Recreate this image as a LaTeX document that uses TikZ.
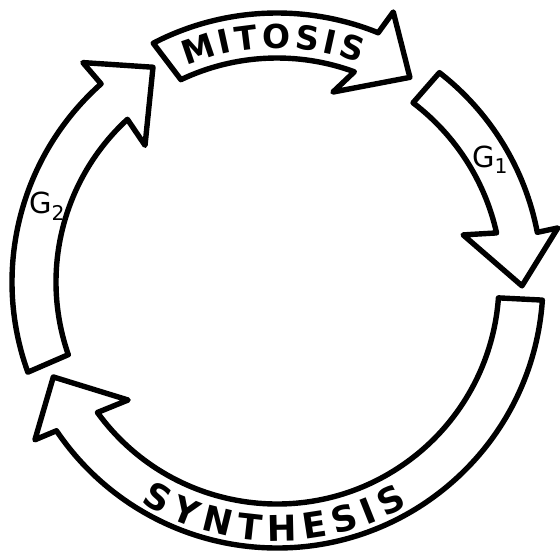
\documentclass[tikz,border=0pt]{standalone}
\usepackage{fontspec}
\newfontfamily\labfont{DejaVu Sans}
\usetikzlibrary{decorations.text}
\newcommand{\mitfont}{\labfont\bfseries\fontsize{33}{33}\selectfont}
\newcommand{\synfont}{\labfont\bfseries\fontsize{35.5}{35.5}\selectfont}
\tikzset{
  band/.style={draw=black, line width=5.4pt, line join=round, fill=white},
  glabel/.style={font=\labfont\fontsize{29}{29}\selectfont, inner sep=0pt},
}
\begin{document}
\begin{tikzpicture}[x=1pt,y=1pt]
\useasboundingbox (-277,-273) rectangle (283,282);
% MITOSIS (top)
\draw[band] (117.4:269pt) arc[start angle=117.4, end angle=67.9, radius=269pt]
  -- (66.7:294pt) -- (57:244pt) -- (73.6:198pt) -- (69.8:224pt)
  arc[start angle=69.8, end angle=115.4, radius=224pt] -- cycle;
% G1 (right)
\draw[band] (52.2:265pt) arc[start angle=52.2, end angle=10.8, radius=265pt]
  -- (10.9:286pt) -- (-0.9:245pt) -- (14.2:192pt) -- (12.6:225pt)
  arc[start angle=12.6, end angle=52.8, radius=225pt] -- cycle;
% SYNTHESIS (bottom)
\draw[band] (-3.9:266pt) arc[start angle=-3.9, end angle=-146, radius=266pt]
  -- (-146.9:289pt) -- (-157:243pt) -- (-141.6:190pt) -- (-144:222pt)
  arc[start angle=-144, end angle=-4.1, radius=222pt] -- cycle;
% G2 (left)
\draw[band] (199.9:265pt) arc[start angle=199.9, end angle=131.6, radius=265pt]
  -- (131.5:293pt) -- (120:248pt) -- (134:190pt) -- (132.6:221pt)
  arc[start angle=132.6, end angle=199.2, radius=221pt] -- cycle;
% texts
\path[decorate, decoration={text along path, text align={fit to path},
  text={|\mitfont|MITOSIS}}]
  (112.8:234pt) arc[start angle=112.8, end angle=69.3, radius=234pt];
\path[decorate, decoration={text along path, text align={fit to path},
  text={|\synfont|SYNTHESIS}}]
  (238.3:259pt) arc[start angle=238.3, end angle=300.4, radius=259pt];
\node[glabel] (g1) at (213,122) {G\textsubscript{1}};
\node[glabel] (g2) at (-230,76) {G\textsubscript{2}};
\end{tikzpicture}
\end{document}
